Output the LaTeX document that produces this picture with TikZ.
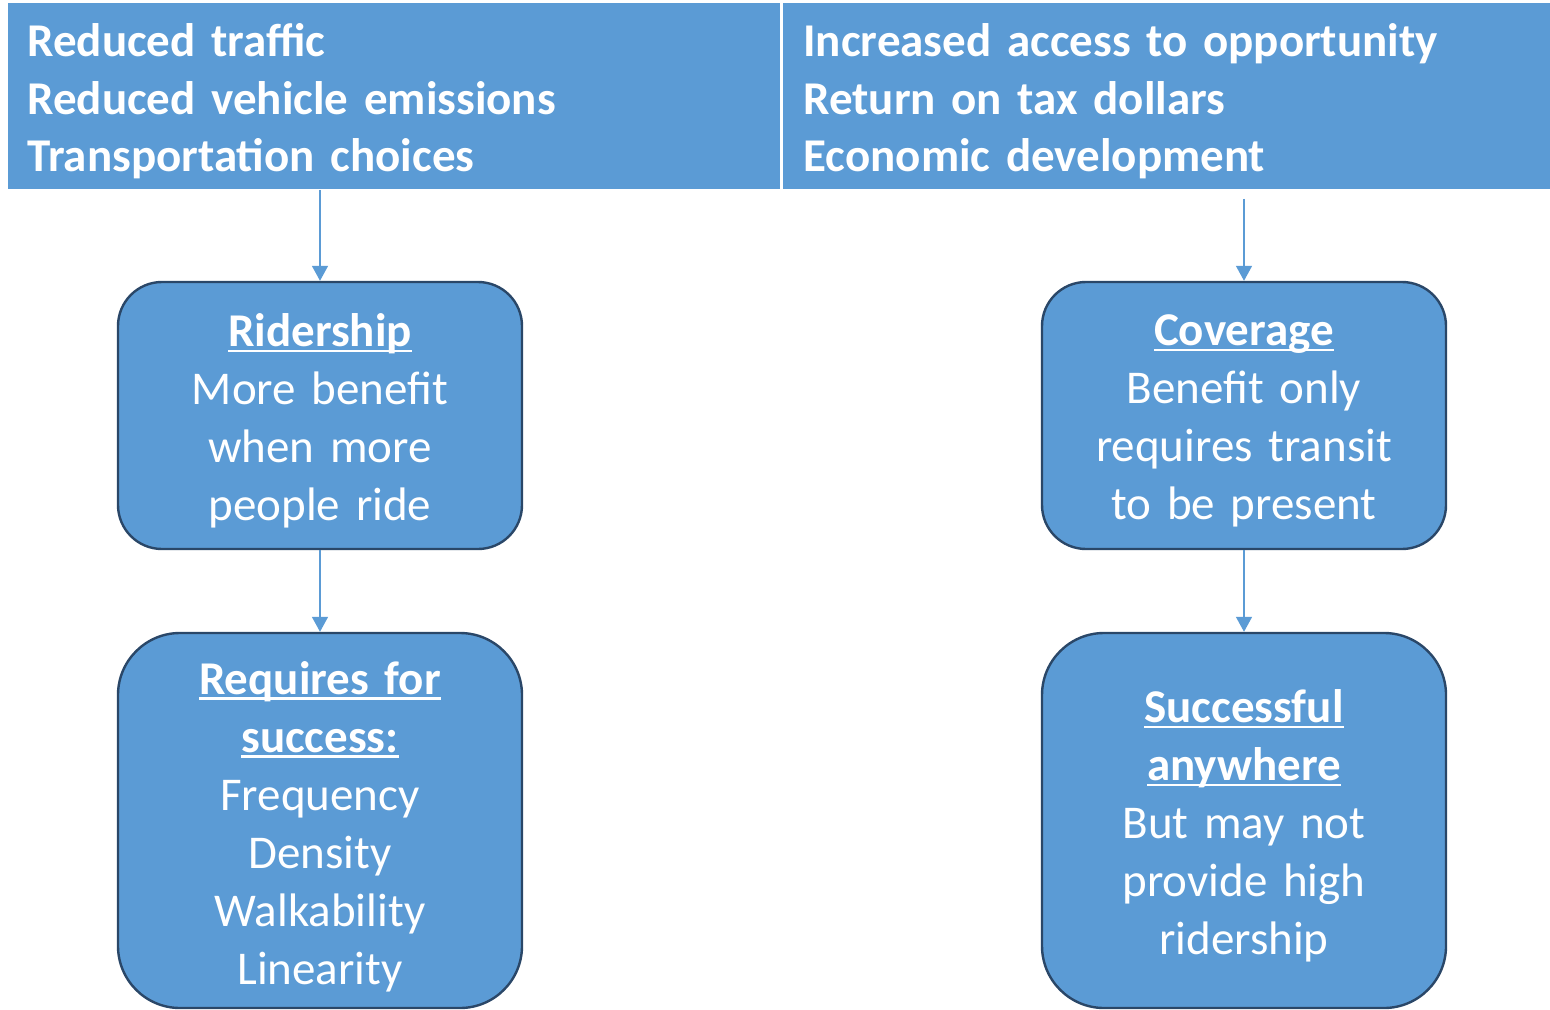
\documentclass[tikz,border=0pt]{standalone}
\usepackage{fontspec}
\setmainfont{Carlito}
\newcommand{\myuline}[1]{\setbox0\hbox{#1}\rlap{\rule[-2.8pt]{\wd0}{1.2pt}}\box0}
\usetikzlibrary{arrows.meta}
\definecolor{barblue}{HTML}{5B9BD5}
\definecolor{boxedge}{HTML}{2A4768}
\tikzset{
  bar/.style={fill=barblue, draw=none, anchor=north west, inner sep=0pt},
  bartext/.style={anchor=west, inner sep=0pt, text width=370pt, align=left, text=white,
    font=\fontsize{23.5}{28.75}\selectfont\bfseries},
  rbox/.style={fill=barblue, draw=boxedge, line width=1.2pt, minimum width=202pt, inner sep=0pt},
  boxtext/.style={inner sep=0pt, text width=195pt, align=center, text=white,
    font=\fontsize{23.5}{29}\selectfont},
  arr/.style={draw=barblue, line width=0.75pt, -{Triangle[width=8pt,length=7.5pt]}}
}
\begin{document}
\begin{tikzpicture}[x=0.5pt,y=-0.5pt]
\useasboundingbox (0,0) rectangle (1550,1010);
\node[bar, minimum width=386pt, minimum height=93pt] (lbar) at (8,3) {};
\node[bar, minimum width=383.5pt, minimum height=93pt] (rbar) at (783,3) {};
\node[bartext] (lt) at (27,101.5)
  {Reduced traffic\\Reduced vehicle emissions\\Transportation choices};
\node[bartext] (rt) at (803,101.5)
  {Increased access to opportunity\\Return on tax dollars\\Economic development};
\node[rbox, rounded corners=22pt, minimum height=133.5pt] (b1) at (320,415.5) {};
\node[rbox, rounded corners=31pt, minimum height=187.5pt] (b2) at (320,820.5) {};
\node[rbox, rounded corners=22pt, minimum height=133.5pt] (b3) at (1244,415.5) {};
\node[rbox, rounded corners=31pt, minimum height=187.5pt] (b4) at (1244,820.5) {};
\node[boxtext] (t1) at ([yshift=-2.75pt]b1.center)
  {\textbf{\myuline{Ridership}}\\More benefit\\when more\\people ride};
\node[boxtext] (t2) at ([yshift=-3pt]b2.center)
  {\textbf{\myuline{Requires for}}\\\textbf{\myuline{success:}}\\Frequency\\Density\\Walkability\\Linearity};
\node[boxtext] (t3) at ([yshift=-2.75pt]b3.center)
  {\textbf{\myuline{Coverage}}\\Benefit only\\requires transit\\to be present};
\node[boxtext] (t4) at ([yshift=-2.75pt]b4.center)
  {\textbf{\myuline{Successful}}\\\textbf{\myuline{anywhere}}\\But may not\\provide high\\ridership};
\draw[arr] (lbar.south -| b1.north) -- (b1.north);
\draw[arr, shorten <=4.5pt] (rbar.south -| b3.north) -- (b3.north);
\draw[arr] (b1.south) -- (b2.north);
\draw[arr] (b3.south) -- (b4.north);
\end{tikzpicture}
\end{document}
